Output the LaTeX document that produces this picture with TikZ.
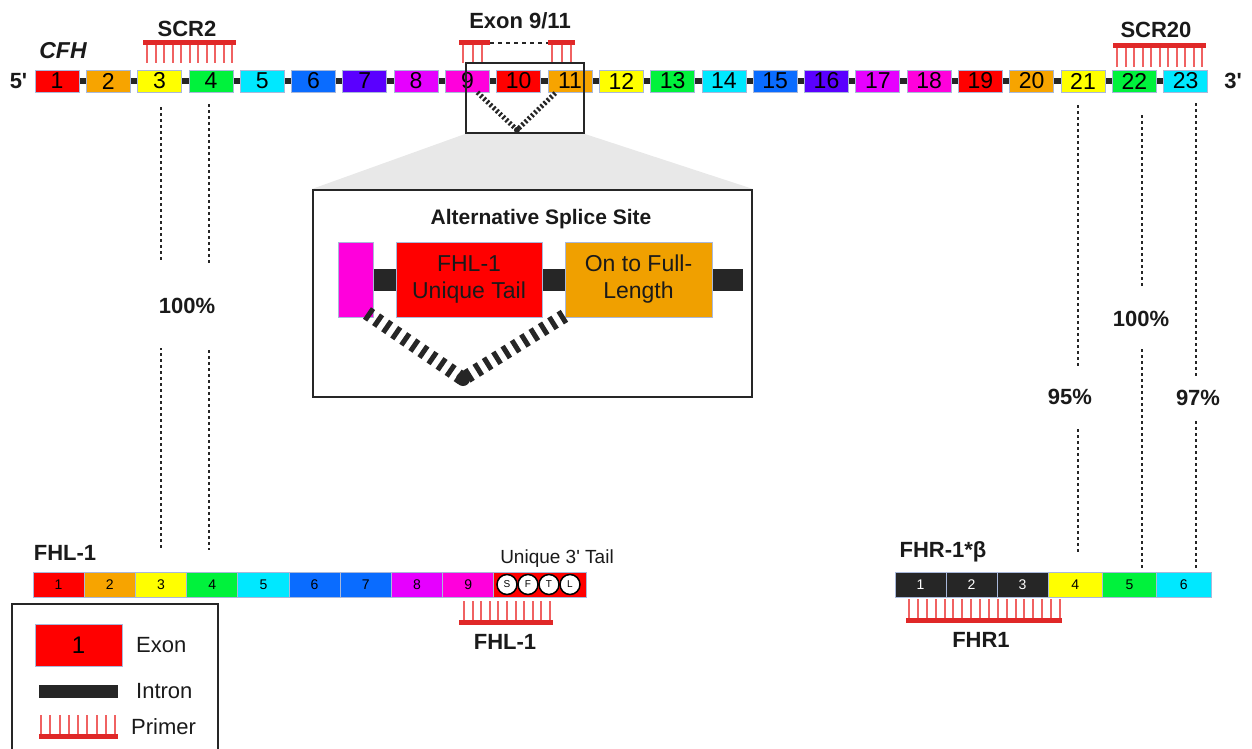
\documentclass[tikz,border=0pt]{standalone}
\usepackage{fontspec}
\setmainfont{Liberation Sans}
\usepackage{xcolor}
\definecolor{textcolor}{HTML}{1A1A1A}
\definecolor{excol0}{HTML}{FF0000}
\definecolor{excol1}{HTML}{F7A400}
\definecolor{excol2}{HTML}{FFFF00}
\definecolor{excol3}{HTML}{00F23C}
\definecolor{excol4}{HTML}{00E8FF}
\definecolor{excol5}{HTML}{0A6CFF}
\definecolor{excol6}{HTML}{5A00FF}
\definecolor{excol7}{HTML}{E600FF}
\definecolor{excol8}{HTML}{FF00DC}
\definecolor{exonborder}{HTML}{A9B8DA}
\definecolor{introncolor}{HTML}{262626}
\definecolor{primerbar}{HTML}{E02828}
\definecolor{primertooth}{HTML}{F06262}
\definecolor{zoomgrey}{HTML}{E8E8E8}
\definecolor{spliceorange}{HTML}{F0A000}
\usepackage{tikz}
\usetikzlibrary{positioning,calc,backgrounds}
\newcommand{\fsz}[1]{\fontsize{#1}{#1}\selectfont}
\tikzset{
    exon/.style={
        rectangle,
        draw=exonborder,
        text=black,
        minimum width=44pt,
        minimum height=22pt,
        inner sep=0pt,
        line width=0.8pt,
        font=\fsz{23},
    },
    smallexon/.style={
        rectangle,
        draw=exonborder,
        text=black,
        minimum width=51.2pt,
        minimum height=25pt,
        inner sep=0pt,
        outer sep=0pt,
        line width=0.8pt,
        font=\fsz{14},
    },
    splicerect/.style={
        rectangle,
        draw=exonborder,
        text=textcolor,
        minimum height=75pt,
        inner sep=0pt,
        line width=1pt,
        align=center,
        font={\fontsize{23}{27}\selectfont},
    },
    framebox/.style={
        rectangle,
        draw=introncolor,
        line width=2pt,
        inner sep=0pt,
    },
    residue/.style={
        circle,
        draw=black,
        fill=white,
        line width=1.5pt,
        minimum size=20pt,
        inner sep=0pt,
        font=\fsz{10},
    },
    boldlabel/.style={
        text=textcolor,
        font={\bfseries\fsz{22}},
        inner sep=0pt,
    },
    pct/.style={
        boldlabel,
        fill=white,
    },
    legendtext/.style={
        text=textcolor,
        font=\fsz{22},
        inner sep=0pt,
        anchor=west,
    },
    intron/.style={
        draw=introncolor,
        line width=6pt,
    },
    dotline/.style={
        draw=introncolor,
        line width=2pt,
        dash pattern=on 3pt off 3pt,
    },
    hatch/.style={
        draw=introncolor,
        line width=14pt,
        dash pattern=on 5pt off 6pt,
    },
    smallhatch/.style={
        draw=introncolor,
        line width=5pt,
        dash pattern=on 2.2pt off 2.2pt,
    },
    primer/.style={
        draw=primerbar,
        line width=5pt,
    },
    tooth/.style={
        draw=primertooth,
        line width=2pt,
    },
}

\begin{document}
\begin{tikzpicture}[x=1pt, y=-1pt]
    \useasboundingbox (0,0) rectangle (1252,749);

    % CFH gene, 23 exons
    \foreach \i in {1,...,23} {
        \pgfmathtruncatemacro{\m}{mod(\i-1,9)}
        \node[exon, fill=excol\m] (e\i) at ({57+51.3*(\i-1)},81) {\i};
    }
    \node[boldlabel] (fiveprime) at (18.5,81) {5\textquotesingle};
    \node[boldlabel] (threeprime) at (1233,81) {3\textquotesingle};
    \node[boldlabel, font={\bfseries\itshape\fsz{23}}] (cfh) at (63,51) {CFH};

    % primers on CFH
    \node[boldlabel] (scr2) at (187,29) {SCR2};
    \draw[primer] (143,43) -- (236,43);
    \foreach \t in {147,155.5,...,232.1} \draw[tooth] (\t,45) -- (\t,63);

    \node[boldlabel] (scr20) at (1156,30) {SCR20};
    \draw[primer] (1113,46) -- (1206,46);
    \foreach \t in {1117,1125.5,...,1202.1} \draw[tooth] (\t,48) -- (\t,67);

    \node[boldlabel] (exon911) at (520,21) {Exon 9/11};
    \draw[primer] (459,43) -- (490,43);
    \draw[primer] (548,43) -- (575,43);
    \foreach \t in {463,472.5,482,552,561.5,571} \draw[tooth] (\t,45) -- (\t,63);
    \draw[introncolor, line width=1.5pt, dash pattern=on 4pt off 4pt] (490,43) -- (548,43);

    % zoom onto the splice site
    \node[framebox, minimum width=118pt, minimum height=70pt] (zoom) at (525,98) {};
    \coordinate (zoomvertex) at (517,130);
    \draw[smallhatch] ([xshift=10pt]e9.south) -- (zoomvertex) -- ([xshift=-14pt]e11.south);
    \fill[introncolor] (zoomvertex) circle (3pt);

    \node[framebox, minimum width=439pt, minimum height=207pt] (splice) at (532.5,293.5) {};
    \node[boldlabel, font={\bfseries\fsz{21}}] (splicetitle) at (541,219) {Alternative Splice Site};
    \node[splicerect, fill=excol8, minimum width=35pt] (sp9) at (355.5,279.5) {};
    \node[splicerect, fill=excol0, minimum width=146pt] (sptail) at (469,279.5) {FHL-1\\Unique Tail};
    \node[splicerect, fill=spliceorange, minimum width=147pt] (spfull) at (638.5,279.5) {On to Full-\\Length};
    \coordinate (spend) at (743,279.5);
    \coordinate (spvertex) at (463,379);
    \draw[hatch] (367,313) -- (spvertex) -- (569,313);
    \fill[introncolor] (spvertex) circle (7pt);

    % FHL-1 transcript
    \node[boldlabel] (fhllabel) at (65,553) {FHL-1};
    \foreach \i/\c in {1/excol0,2/excol1,3/excol2,4/excol3,5/excol4,6/excol5,7/excol5,8/excol7,9/excol8}
        \node[smallexon, fill=\c] (f\i) at ({58.6+51.2*(\i-1)},584.5) {\i};
    \node[smallexon, fill=excol0, minimum width=93pt, right=0pt of f9] (fhltail) {};
    \foreach \l [count=\j] in {S,F,T,L}
        \node[residue] (res\j) at ({507+21*(\j-1)},584.5) {\l};
    \node[text=textcolor, font=\fsz{19}, inner sep=0pt] (tailtext) at (557,559) {Unique 3\textquotesingle{} Tail};

    \draw[primer] (459,622) -- (553,622);
    \foreach \t in {464,472.6,...,550.1} \draw[tooth] (\t,601) -- (\t,620);
    \node[boldlabel] (fhlprimer) at (505,642) {FHL-1};

    % FHR-1*beta transcript
    \node[boldlabel] (fhrlabel) at (943,552) {FHR-1*β};
    \node[smallexon, fill=introncolor, text=white, minimum width=51pt] (r1) at (920.5,584.5) {1};
    \node[smallexon, fill=introncolor, text=white, minimum width=51pt, right=0pt of r1] (r2) {2};
    \node[smallexon, fill=introncolor, text=white, minimum width=51pt, right=0pt of r2] (r3) {3};
    \node[smallexon, fill=excol2, minimum width=54.3pt, right=0pt of r3] (r4) {4};
    \node[smallexon, fill=excol3, minimum width=54.3pt, right=0pt of r4] (r5) {5};
    \node[smallexon, fill=excol4, minimum width=54.3pt, right=0pt of r5] (r6) {6};

    \draw[primer] (906,620) -- (1062,620);
    \foreach \t in {909,917.88,...,1060.1} \draw[tooth] (\t,599) -- (\t,618);
    \node[boldlabel] (fhrprimer) at (981,640) {FHR1};

    % homology lines
    \draw[dotline, shorten <=15pt, shorten >=22pt] (f3.north |- e3.south) -- (f3.north);
    \draw[dotline, shorten <=12pt, shorten >=22pt] ([xshift=-3pt]f4.north |- e4.south) -- ([xshift=-3pt]f4.north);
    \node[pct, minimum width=70pt, minimum height=85pt] (pct1) at (187,305.5) {100\%};

    \draw[dotline, shorten <=13pt, shorten >=20pt] ([xshift=3pt]r4.north |- e21.south) -- ([xshift=3pt]r4.north);
    \draw[dotline, shorten <=23pt, shorten >=4pt] ([xshift=12.5pt]r5.north |- e22.south) -- ([xshift=12.5pt]r5.north);
    \draw[dotline, shorten <=11pt, shorten >=2pt] ([xshift=12pt]r6.north |- e23.south) -- ([xshift=12pt]r6.north);
    \node[pct, minimum width=40pt, minimum height=60pt] (pct95) at (1070,397) {95\%};
    \node[pct, minimum width=56pt, minimum height=59pt] (pct2) at (1141,318.5) {100\%};
    \node[pct, minimum width=44pt, minimum height=44pt] (pct97) at (1198,398) {97\%};

    % legend
    \draw[introncolor, line width=2pt] (12,750) |- (218,604) -- (218,750);
    \node[exon, fill=excol0, minimum width=87pt, minimum height=42pt, font=\fsz{24}] (legexon) at (78.5,645) {1};
    \node[legendtext] (legexontext) at (136,645) {Exon};
    \coordinate (legintronA) at (39,691.5);
    \coordinate (legintronB) at (118,691.5);
    \draw[intron, line width=13pt] (legintronA) -- (legintronB);
    \node[legendtext] (legintrontext) at (136,691) {Intron};
    \draw[primer] (39,736.5) -- (118,736.5);
    \foreach \t in {41,50.25,...,115.1} \draw[tooth] (\t,715) -- (\t,734);
    \node[legendtext] (legprimertext) at (131,727) {Primer};

    \begin{scope}[on background layer]
        \fill[zoomgrey] (zoom.south west) -- (zoom.south east) -- (splice.north east) -- (splice.north west) -- cycle;
        \draw[intron] (e1.center) -- (e23.center);
        \draw[intron, line width=22pt] (sp9.center) -- (spend);
    \end{scope}
\end{tikzpicture}
\end{document}
